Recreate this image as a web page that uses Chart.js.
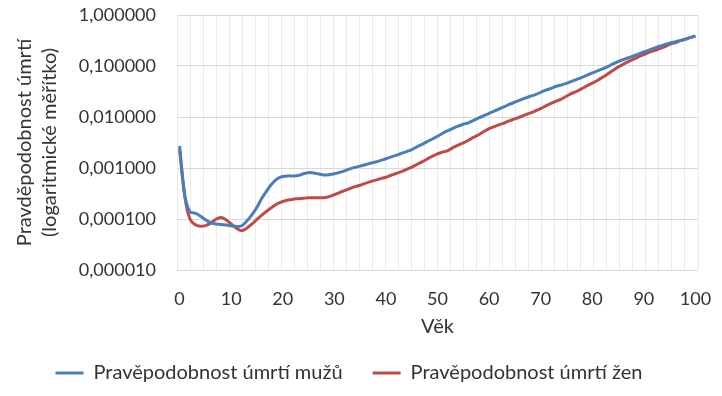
<!DOCTYPE html>
<html>
<head>
<meta charset="utf-8">
<script src="https://cdn.jsdelivr.net/npm/chart.js@4"></script>
<style>
  html, body { margin: 0; padding: 0; background: #ffffff; }
  #wrap { width: 722px; height: 396px; position: relative; }
</style>
</head>
<body>
<div id="wrap"><canvas id="c" width="722" height="396"></canvas></div>
<script>
const ages = Array.from({length: 101}, (_, i) => i);
const xTickLabels = [0, 10, 20, 30, 40, 50, 60, 70, 80, 90, 100];
const yTickValues = [0.00001, 0.0001, 0.001, 0.01, 0.1, 1];
const seriesNames = ['Pravěpodobnost úmrtí mužů', 'Pravěpodobnost úmrtí žen'];
const yTitle = ['Pravděpodobnost úmrtí', '(logaritmické měřítko)'];
const xTitle = 'Věk';

const maleProb = [
  0.0027, 0.0003, 0.000139, 0.00013, 0.000115, 0.000097, 0.000084, 0.00008, 0.000078, 0.000076,
  0.000074, 0.000071, 0.000073, 0.00009, 0.00012, 0.00017, 0.00026, 0.00037, 0.0005, 0.00062,
  0.00068, 0.0007, 0.0007, 0.00071, 0.00077, 0.00081, 0.0008, 0.00076, 0.00073, 0.00074,
  0.00077, 0.00082, 0.00088, 0.00096, 0.00103, 0.00109, 0.00116, 0.00124, 0.00131, 0.00141,
  0.00152, 0.00165, 0.00177, 0.00193, 0.0021, 0.0023, 0.0026, 0.0029, 0.0033, 0.0037,
  0.0042, 0.0048, 0.0054, 0.006, 0.0066, 0.0072, 0.0077, 0.0086, 0.0096, 0.0106,
  0.0118, 0.0131, 0.0144, 0.016, 0.0178, 0.0196, 0.0215, 0.0235, 0.0255, 0.0275,
  0.0305, 0.0335, 0.0365, 0.04, 0.0425, 0.0455, 0.05, 0.0545, 0.06, 0.066,
  0.073, 0.08, 0.088, 0.097, 0.11, 0.122, 0.133, 0.145, 0.158, 0.172,
  0.188, 0.205, 0.225, 0.245, 0.262, 0.28, 0.297, 0.315, 0.335, 0.36,
  0.385
];
const femaleProb = [
  0.0023, 0.00028, 0.0001, 0.000078, 0.000072, 0.000074, 0.000083, 0.000098, 0.000107, 0.000097,
  0.00008, 0.000066, 0.000059, 0.000066, 0.000079, 0.000098, 0.00012, 0.000145, 0.000172, 0.0002,
  0.00022, 0.000235, 0.000245, 0.00025, 0.000255, 0.00026, 0.00026, 0.00026, 0.000262, 0.000275,
  0.0003, 0.00033, 0.00036, 0.000395, 0.00043, 0.00046, 0.0005, 0.00054, 0.00058, 0.00062,
  0.00066, 0.00072, 0.00078, 0.00085, 0.00094, 0.00104, 0.00117, 0.00132, 0.0015, 0.0017,
  0.0019, 0.00205, 0.0022, 0.0025, 0.0028, 0.0031, 0.0035, 0.004, 0.0045, 0.0052,
  0.0059, 0.0065, 0.0071, 0.0077, 0.0085, 0.0092, 0.01, 0.011, 0.012, 0.0132,
  0.0146, 0.0165, 0.0185, 0.0205, 0.0225, 0.0255, 0.029, 0.032, 0.036, 0.041,
  0.046, 0.052, 0.06, 0.07, 0.082, 0.095, 0.108, 0.122, 0.137, 0.152,
  0.168, 0.185, 0.2, 0.218, 0.237, 0.265, 0.285, 0.31, 0.335, 0.36,
  0.39
];

const FONT = 'Lato, "Open Sans", sans-serif';
const TEXT = '#333333';
const XMIN = -0.5, XMAX = 100.5, VGRID_COUNT = 40;

new Chart(document.getElementById('c'), {
  type: 'line',
  data: {
    datasets: [
      {
        label: seriesNames[0],
        data: ages.map((a, i) => ({x: a, y: maleProb[i]})),
        borderColor: '#4a7ebb',
        backgroundColor: '#4a7ebb',
        borderWidth: 3,
        pointRadius: 0,
        tension: 0.3,
        fill: false
      },
      {
        label: seriesNames[1],
        data: ages.map((a, i) => ({x: a, y: femaleProb[i]})),
        borderColor: '#be4b48',
        backgroundColor: '#be4b48',
        borderWidth: 3,
        pointRadius: 0,
        tension: 0.3,
        fill: false
      }
    ]
  },
  options: {
    responsive: false,
    animation: false,
    devicePixelRatio: 1,
    layout: { padding: { left: 0, right: 24, top: 15, bottom: 3 } },
    plugins: {
      legend: {
        position: 'bottom',
        labels: {
          color: TEXT,
          font: { family: FONT, size: 20 },
          usePointStyle: true,
          pointStyle: 'line',
          pointStyleWidth: 28,
          boxHeight: 20,
          padding: 30
        }
      },
      tooltip: { enabled: false }
    },
    scales: {
      x: {
        type: 'linear',
        position: 'bottom',
        min: XMIN,
        max: XMAX,
        afterBuildTicks: s => { s.ticks = xTickLabels.map(v => ({value: v})); },
        ticks: {
          color: TEXT,
          font: { family: FONT, size: 18 },
          padding: 18,
          maxRotation: 0,
          autoSkip: false
        },
        grid: { display: false, drawTicks: false },
        border: { display: false },
        title: {
          display: true,
          text: xTitle,
          color: TEXT,
          font: { family: FONT, size: 20 },
          padding: { top: 0, bottom: -6 }
        },
        afterFit: s => { s.height = 63; s.paddingLeft = 0; s.paddingRight = 0; }
      },
      x2: {
        type: 'linear',
        position: 'bottom',
        min: XMIN,
        max: XMAX,
        afterBuildTicks: s => {
          const t = [];
          for (let k = 0; k <= VGRID_COUNT; k++) t.push({value: XMIN + k * (XMAX - XMIN) / VGRID_COUNT});
          s.ticks = t;
        },
        ticks: { display: false },
        grid: { color: '#ebebeb', lineWidth: 1, drawTicks: false },
        border: { display: false },
        afterFit: s => { s.height = 0; s.paddingLeft = 0; s.paddingRight = 0; }
      },
      y: {
        type: 'logarithmic',
        min: 0.00001,
        max: 1,
        afterBuildTicks: s => { s.ticks = yTickValues.map(v => ({value: v})); },
        ticks: {
          color: TEXT,
          font: { family: FONT, size: 18 },
          padding: 21,
          callback: v => Number(v).toFixed(6).replace('.', ',')
        },
        grid: { color: '#d9d9d9', lineWidth: 1, drawTicks: false },
        border: { display: false },
        title: {
          display: true,
          text: yTitle,
          color: TEXT,
          font: { family: FONT, size: 20, lineHeight: 1.25 },
          padding: { top: 12, bottom: 0 }
        },
        afterFit: s => { s.width = 177; s.paddingTop = 0; s.paddingBottom = 0; }
      }
    }
  }
});
</script>
</body>
</html>
